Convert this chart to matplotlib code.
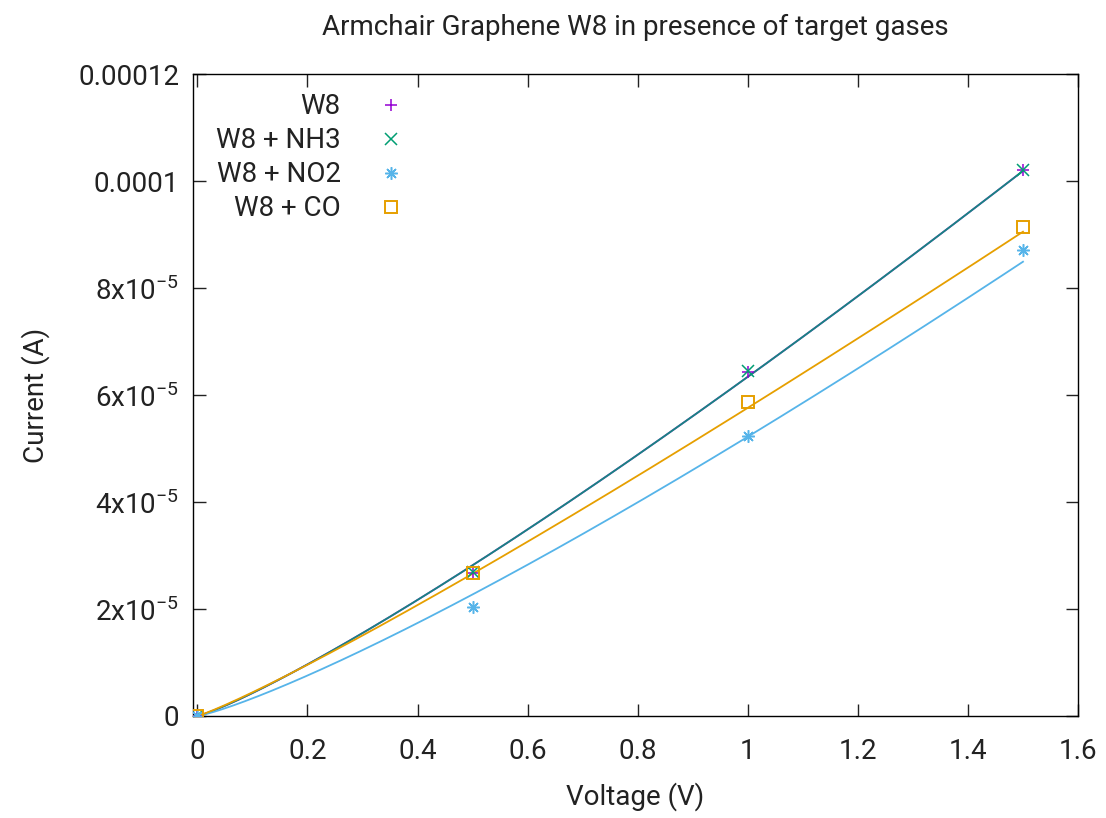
import numpy as np
import matplotlib
matplotlib.use("Agg")
import matplotlib.pyplot as plt
from matplotlib.ticker import FixedLocator

plt.rcParams["font.family"] = ["Roboto", "DejaVu Sans"]
plt.rcParams["mathtext.fontset"] = "custom"
plt.rcParams["mathtext.rm"] = "Roboto"

# data
voltage = [0.0, 0.5, 1.0, 1.5]
i_w8 = [0.0, 2.68e-5, 6.43e-5, 1.020e-4]
i_nh3 = [0.0, 2.70e-5, 6.45e-5, 1.021e-4]
i_no2 = [0.0, 2.03e-5, 5.24e-5, 8.71e-5]
i_co = [0.0, 2.67e-5, 5.87e-5, 9.14e-5]

# fitted curves  I = a * V**b  (parameters estimated from the drawn lines)
fit_a = [6.34e-5, 6.34e-5, 5.22e-5, 5.76e-5]
fit_b = [1.17, 1.17, 1.20, 1.115]

names = ["W8", "W8 + NH3", "W8 + NO2", "W8 + CO"]
values = [i_w8, i_nh3, i_no2, i_co]
colors = ["#9400d3", "#009e73", "#56b4e9", "#e69f00"]
markers = ["+", "x", (8, 2, 0), "s"]
line_alpha = [1.0, 0.85, 1.0, 1.0]

y_ticks = [0, 2e-5, 4e-5, 6e-5, 8e-5, 1e-4, 1.2e-4]
y_labels = ["0", r"2x10$^{-5}$", r"4x10$^{-5}$", r"6x10$^{-5}$",
            r"8x10$^{-5}$", "0.0001", "0.00012"]
x_ticks = [0, 0.2, 0.4, 0.6, 0.8, 1.0, 1.2, 1.4, 1.6]
x_labels = ["0", "0.2", "0.4", "0.6", "0.8", "1", "1.2", "1.4", "1.6"]

fig = plt.figure(figsize=(11.06, 8.18), dpi=100)
ax = fig.add_axes([0.1745, 0.1247, 0.8002, 0.7848])

xs = np.linspace(0, max(voltage), 300)
for i in range(len(names)):
    ax.plot(xs, fit_a[i] * xs ** fit_b[i], color=colors[i], lw=1.3,
            alpha=line_alpha[i], zorder=2)

for i in range(len(names)):
    if markers[i] == "s":
        ax.plot(voltage, values[i], ls="none", marker="s", ms=9, mfc="none",
                mec=colors[i], mew=1.4, label=names[i], zorder=3)
    else:
        ax.plot(voltage, values[i], ls="none", marker=markers[i], ms=9,
                color=colors[i], mew=1.1, label=names[i], zorder=3)

ax.set_xlim(-0.008, 1.6)
ax.set_ylim(0, 1.2e-4)
ax.xaxis.set_major_locator(FixedLocator(x_ticks))
ax.set_xticklabels(x_labels)
ax.yaxis.set_major_locator(FixedLocator(y_ticks))
ax.set_yticklabels(y_labels)
ax.tick_params(direction="in", length=9, width=1, top=True, right=True,
               labelsize=20, colors="#222222")
ax.tick_params(axis="x", pad=16)
ax.tick_params(axis="y", pad=10)
for s in ax.spines.values():
    s.set_linewidth(1.0)

ax.set_xlabel("Voltage (V)", fontsize=20, labelpad=12, color="#222222")
ax.set_ylabel("Current (A)", fontsize=20, labelpad=20, color="#222222")
ax.set_title("Armchair Graphene W8 in presence of target gases",
             fontsize=20, pad=28, color="#222222")

ax.legend(loc="upper left", bbox_to_anchor=(0.004, 1.0), frameon=False,
          markerfirst=False, fontsize=20, handlelength=1.2,
          handletextpad=1.2, labelspacing=0.25, borderaxespad=0.3,
          alignment="right", labelcolor="#222222")

fig.savefig("out.png", dpi=100)
